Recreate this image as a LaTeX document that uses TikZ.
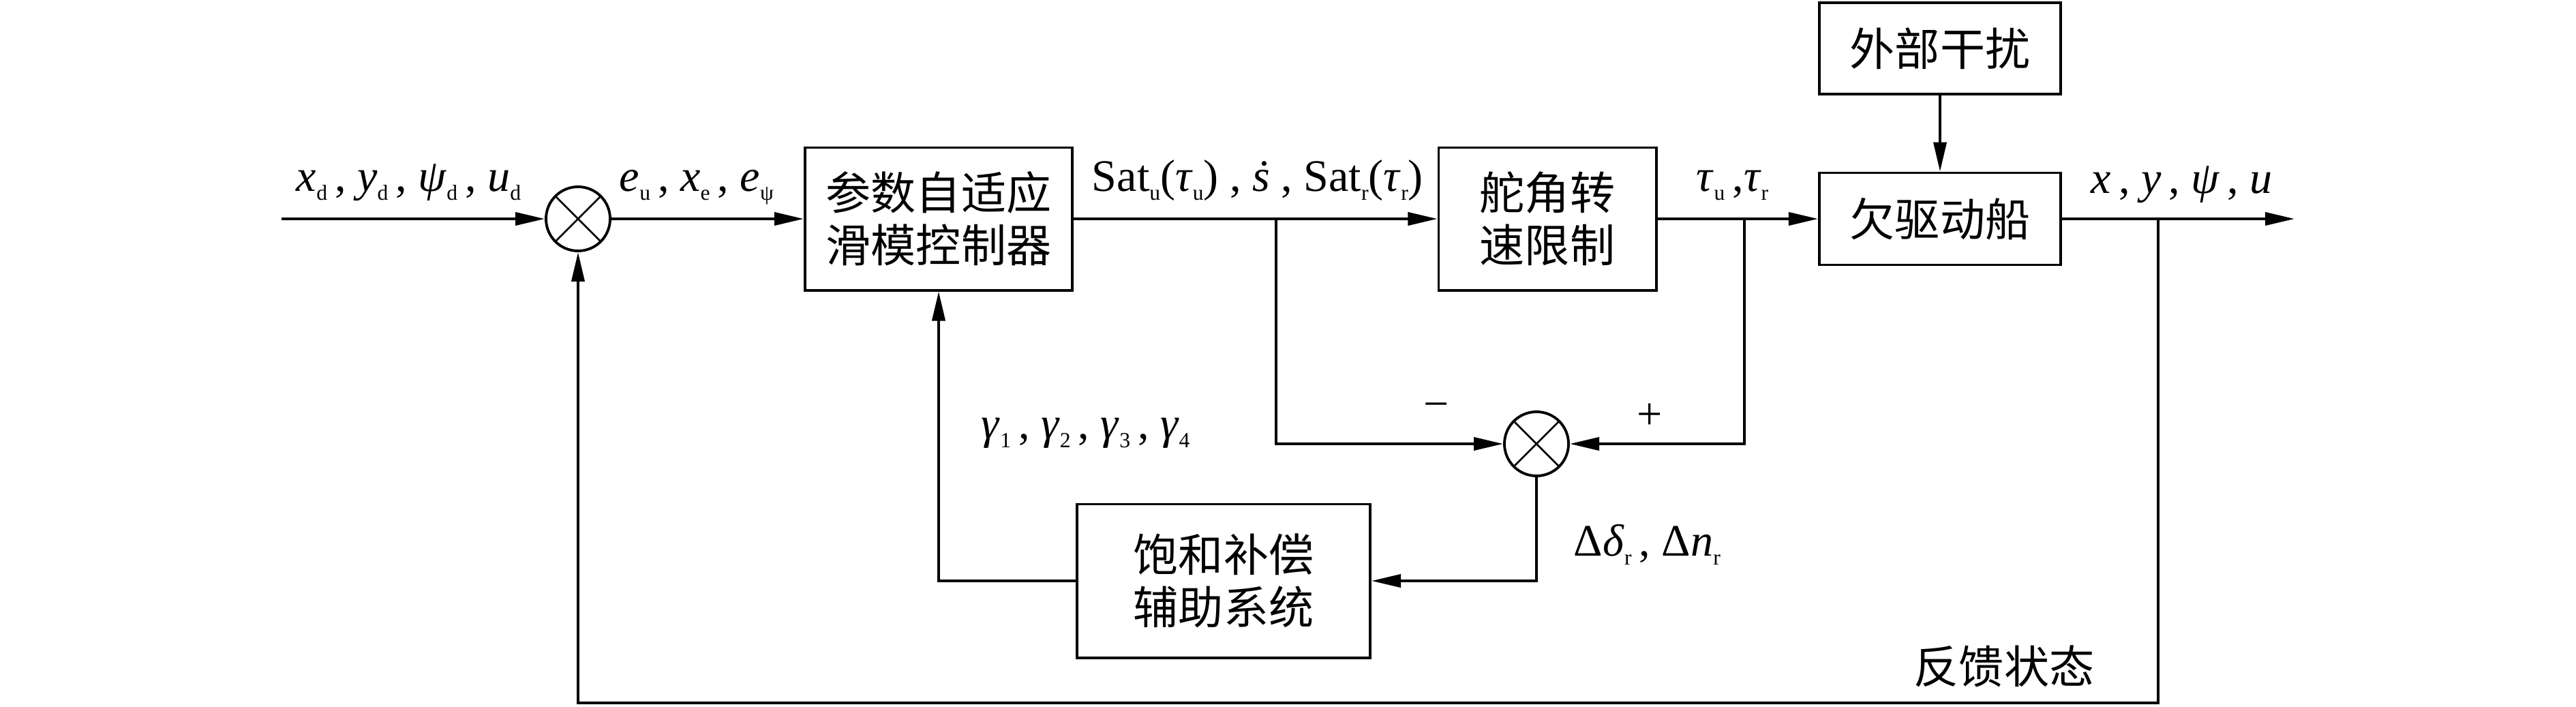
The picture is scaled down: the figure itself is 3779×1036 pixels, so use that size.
\documentclass[tikz,border=0pt]{standalone}
\usepackage{fontspec}
\setmainfont{Liberation Serif}
\newfontfamily\cjk{Noto Sans CJK SC}
\usetikzlibrary{arrows.meta}
\newcommand{\idx}[1]{\raisebox{-0.2em}{\fontsize{9pt}{10pt}\selectfont #1}}
\newcommand{\sdot}{\textit{\iffontchar\font"1E61 \symbol{"1E61}\else\ooalign{s\cr\hidewidth\raisebox{0.5em}{.}\hidewidth\cr}\fi}}

\tikzset{
  block/.style={draw, line width=1.1pt, inner sep=0pt, align=center, font=\cjk\fontsize{18.8pt}{21.9pt}\selectfont},
  sumnode/.style={circle, draw, line width=1.1pt, minimum size=0.94cm, inner sep=0pt,
    path picture={\draw[line width=0.75pt] (path picture bounding box.north west) -- (path picture bounding box.south east)
      (path picture bounding box.north east) -- (path picture bounding box.south west);}},
  arr/.style={-{Triangle[length=4.3mm,width=1.9mm]}},
  lbl/.style={inner sep=0pt, anchor=base west}
}

\begin{document}
\begin{tikzpicture}[x=0.01cm, y=-0.01cm, line width=1.1pt, font=\fontsize{18.8pt}{21.9pt}\selectfont]
\useasboundingbox (0,0) rectangle (3779,1036);

\node[sumnode] (sum1) at (848,321) {};
\node[block, minimum width=3.92cm, minimum height=2.09cm] (ctrl) at (1377,321) {参数自适应\\滑模控制器};
\node[block, minimum width=3.19cm, minimum height=2.09cm] (limit) at (2270,321) {舵角转\\速限制};
\node[block, minimum width=3.54cm, minimum height=1.35cm] (ship) at (2846,321) {欠驱动船};
\node[block, minimum width=3.54cm, minimum height=1.34cm] (dist) at (2846,71) {外部干扰};
\node[sumnode] (sum2) at (2254,651) {};
\node[block, minimum width=4.30cm, minimum height=2.25cm] (comp) at (1795,852) {饱和补偿\\辅助系统};

\coordinate (in) at (413,321);
\coordinate (out) at (3366,321);
\coordinate (br1) at (1872,321);
\coordinate (br2) at (2559,321);
\coordinate (br3) at (3166,321);
\coordinate (fb) at (3166,1031);

\draw[arr] (in) -- (sum1);
\draw[arr] (sum1) -- (ctrl);
\draw[arr] (ctrl) -- (limit);
\draw[arr] (limit) -- (ship);
\draw[arr] (dist) -- (ship);
\draw[arr] (ship) -- (out);
\draw[arr] (br1) |- (sum2);
\draw[arr] (br2) |- (sum2);
\draw[arr] (sum2) |- (comp);
\draw[arr] (comp) -| (ctrl);
\draw[arr] (br3) -- (fb) -| (sum1);

\node[lbl] (lblin) at (433,280) {\textit{x}\idx{d}\,, \textit{y}\idx{d}\,, \textit{ψ}\idx{d}\,, \textit{u}\idx{d}};
\node[lbl] (lblerr) at (907,280) {\textit{e}\idx{u}\,, \textit{x}\idx{e}\,, \textit{e}\idx{ψ}};
\node[lbl] (lblsat) at (1600,280) {Sat\idx{u}(\textit{τ}\idx{u}) , \sdot{} , Sat\idx{r}(\textit{τ}\idx{r})};
\node[lbl] (lbltau) at (2487,280) {\textit{τ}\idx{u}\,,\textit{τ}\idx{r}};
\node[lbl] (lblout) at (3066,283) {\textit{x}\,, \textit{y}\,, \textit{ψ}\,, \textit{u}};
\node[lbl] (lblgam) at (1438,643) {\textit{γ}\idx{1}\,, \textit{γ}\idx{2}\,, \textit{γ}\idx{3}\,, \textit{γ}\idx{4}};
\node[lbl] (lbldelta) at (2307,815) {Δ\textit{δ}\idx{r}\,, Δ\textit{n}\idx{r}};
\node (lblminus) at (2107,603) {−};
\node (lblplus) at (2420,611) {+};
\node[font=\cjk\fontsize{18.8pt}{21.9pt}\selectfont] (lblfb) at (2940,977) {反馈状态};
\end{tikzpicture}
\end{document}
